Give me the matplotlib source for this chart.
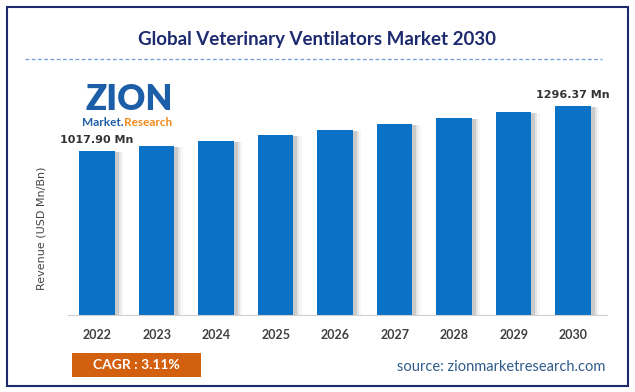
import matplotlib
matplotlib.use('Agg')
import matplotlib.pyplot as plt
from matplotlib.patches import Rectangle

# data
years = ['2022', '2023', '2024', '2025', '2026', '2027', '2028', '2029', '2030']
revenue = [1017.90, 1049, 1080, 1117, 1148, 1186, 1223, 1260, 1296.37]
first_label = '1017.90 Mn'
last_label = '1296.37 Mn'
cagr_text = 'CAGR : 3.11%'
source_text = 'source: zionmarketresearch.com'

BAR_BLUE = '#0A72C6'
NAVY = '#1E2A6E'

fig = plt.figure(figsize=(6.35, 3.92), dpi=100)
W, H = 635, 392


def fx(px):
    return px / W


def fy(py):
    return 1 - py / H


# outer frame
fig.patches.append(Rectangle((fx(7), fy(386)), fx(621), (386 - 7) / H,
                             transform=fig.transFigure, fill=False,
                             edgecolor=NAVY, linewidth=1.5))

# title and dashed rule
fig.text(0.5, fy(40), 'Global Veterinary Ventilators Market 2030',
         ha='center', va='center', fontsize=13.5, fontweight='bold',
         color=NAVY, family='Lato')
fig.add_artist(plt.Line2D([fx(25), fx(602)], [fy(59), fy(59)],
                          transform=fig.transFigure, color='#6E9FD8',
                          linestyle=(0, (3, 2)), linewidth=0.9))

# logo (text version)
fig.text(fx(129), fy(100), 'ZION', ha='center', va='center', fontsize=25,
         fontweight='heavy', color='#1C5FA8', family='Lato')
fig.text(fx(82), fy(123), 'Market.', ha='left', va='center', fontsize=8.5,
         fontweight='bold', color='#1C5FA8', family='Lato')
fig.text(fx(124), fy(123), 'Research', ha='left', va='center', fontsize=8.5,
         fontweight='bold', color='#F08A1C', family='Lato')

ax = fig.add_axes([fx(68), fy(315), fx(607 - 68), (315 - 80) / H])
x = list(range(len(years)))

# soft shadow on the right side of each bar
for dx, a in [(0.06, 0.18), (0.10, 0.10), (0.14, 0.05)]:
    ax.bar([i + dx for i in x], [v - 8 for v in revenue], width=0.6,
           color='#555555', alpha=a, bottom=0, zorder=1)
ax.bar(x, revenue, width=0.6, color=BAR_BLUE, zorder=2)

ax.set_xlim(-0.49, 8.57)
ax.set_ylim(0, 1459)
ax.set_xticks(x)
ax.set_xticklabels(years, fontsize=9, fontweight='bold', color='#404040',
                   family='Lato')
ax.tick_params(axis='x', length=0, pad=10)
ax.set_yticks([])
for s in ['top', 'right', 'left']:
    ax.spines[s].set_visible(False)
ax.spines['bottom'].set_color('#D0D0D0')
ax.patch.set_visible(False)

ax.text(0, revenue[0] + 40, first_label, ha='center', va='bottom',
        fontsize=8, fontweight='bold', color='#333333')
ax.text(8, revenue[-1] + 40, last_label, ha='center', va='bottom',
        fontsize=8, fontweight='bold', color='#333333')

fig.text(fx(42), fy(228), 'Revenue (USD Mn/Bn)', rotation=90, ha='center',
         va='center', fontsize=8, color='#444444')

# CAGR badge and source
fig.patches.append(Rectangle((fx(72), fy(377)), fx(129), 24 / H,
                             transform=fig.transFigure, facecolor='#D2600E',
                             edgecolor='none'))
fig.text(fx(136), fy(365), cagr_text, ha='center', va='center', fontsize=10,
         fontweight='bold', color='white', family='Lato')
fig.text(fx(605), fy(367), source_text, ha='right', va='center', fontsize=10.5,
         color='#2F5C8C', family='Lato')

plt.savefig('out.png', dpi=100)
